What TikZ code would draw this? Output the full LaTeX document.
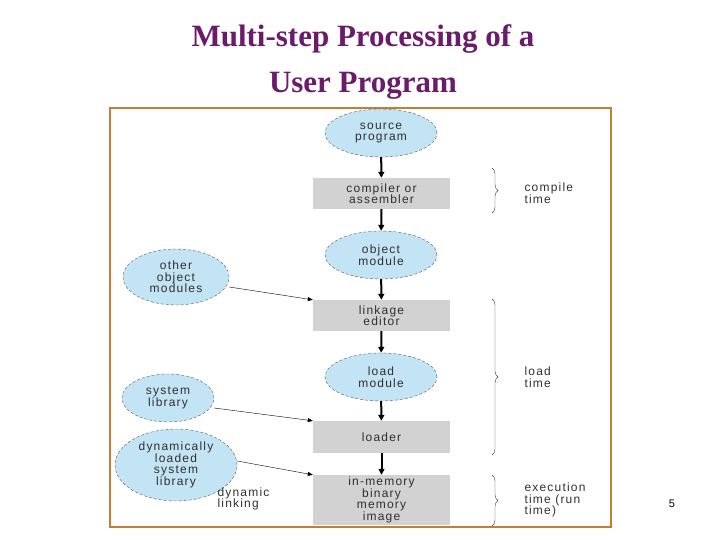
\documentclass[tikz,border=0pt]{standalone}
\usepackage{fontspec}
\setmainfont{Liberation Sans}[LetterSpace=10]
\newfontfamily\titlefont{Liberation Serif}
\usetikzlibrary{shapes.geometric,arrows.meta,decorations.pathreplacing}
\definecolor{ttl}{HTML}{6A1B6A}
\definecolor{frm}{HTML}{C08030}
\definecolor{ell}{HTML}{C3E4F4}
\definecolor{box}{HTML}{D2D2D2}
\definecolor{txt}{HTML}{303030}
\begin{document}
\begin{tikzpicture}[x=1pt,y=-1pt,
  el/.style={ellipse,draw=gray!70!black,densely dashed,thin,fill=ell,inner sep=0pt,align=center,font=\fontsize{12}{11.5}\selectfont,text=txt},
  bx/.style={rectangle,fill=box,inner sep=0pt,minimum width=137pt,align=center,font=\fontsize{12}{11.5}\selectfont,text=txt},
  lb/.style={align=left,anchor=west,font=\fontsize{12}{11.5}\selectfont,text=txt},
  thick arr/.style={-{Triangle[length=6pt,width=6pt]},line width=2pt},
  thin arr/.style={-{Triangle[length=5pt,width=4pt]},thin},
  br/.style={decorate,decoration={brace,amplitude=6pt},thin,gray!50!black}]
\useasboundingbox (0,0) rectangle (720,540);
\node[font=\titlefont\bfseries\fontsize{31}{46}\selectfont,text=ttl,align=center] (title) at (363,62) {Multi-step Processing of a\\User Program};
\draw[frm,line width=2pt] (110,108) rectangle (611,527);
\node[el,minimum width=112pt,minimum height=48pt] (src) at (381,133) {source\\program};
\node[bx,minimum height=31pt] (comp) at (381.5,193.5) {compiler or\\assembler};
\node[el,minimum width=112pt,minimum height=48pt] (obj) at (381,255) {object\\module};
\node[bx,minimum height=31pt] (link) at (381.5,315.5) {linkage\\editor};
\node[el,minimum width=112pt,minimum height=48pt] (lm) at (381,377) {load\\module};
\node[bx,minimum height=32pt] (ld) at (381.5,437) {loader};
\node[bx,minimum height=50pt] (mem) at (381.5,500) {in-memory\\binary\\memory\\image};
\node[el,minimum width=106pt,minimum height=56pt] (oom) at (176,277) {other\\object\\modules};
\node[el,minimum width=92pt,minimum height=48pt] (sys) at (168,398) {system\\library};
\node[el,minimum width=122pt,minimum height=72pt] (dyn) at (176,465) {dynamically\\loaded\\system\\library};
\draw[thick arr] (src) -- (comp);
\draw[thick arr] (comp) -- (obj);
\draw[thick arr] (obj) -- (link);
\draw[thick arr] (link) -- (lm);
\draw[thick arr] (lm) -- (ld);
\draw[thick arr] (ld) -- (mem);
\draw[thin arr] (oom.east) ++(0,10) coordinate (a1) -- (link.north west);
\draw[thin arr] (sys.east) ++(0,10) coordinate (a2) -- (ld.north west);
\draw[thin arr] (dyn.east) ++(0,-4) coordinate (a3) -- (mem.north west);
\coordinate (b1t) at (492,168); \coordinate (b1b) at (492,213);
\coordinate (b2t) at (492,299); \coordinate (b2b) at (492,455);
\coordinate (b3t) at (492,475); \coordinate (b3b) at (492,526);
\draw[br] (b1t) -- (b1b);
\draw[br] (b2t) -- (b2b);
\draw[br] (b3t) -- (b3b);
\node[lb] (l1) at (521,193) {compile\\time};
\node[lb] (l2) at (521,377) {load\\time};
\begin{scope}
\clip (0,0) rectangle (610,540);
\node[lb] (l3) at (521,500) {execution\\time (run\\time)};
\end{scope}
\node[lb] (dl) at (214,499) {dynamic\\linking};
\node[font=\fontsize{11}{12}\selectfont] (pg) at (672,504) {5};
\end{tikzpicture}
\end{document}
